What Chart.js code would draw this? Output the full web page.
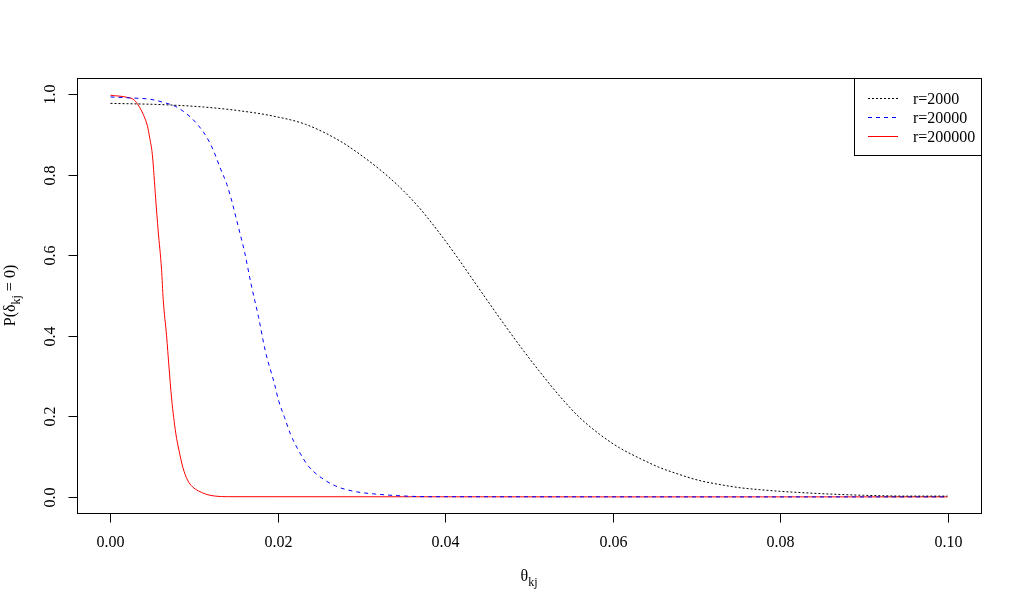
<!DOCTYPE html>
<html>
<head>
<meta charset="utf-8">
<script src="https://cdn.jsdelivr.net/npm/chart.js@4.4.1/dist/chart.umd.min.js"></script>
<style>
  html, body { margin: 0; padding: 0; background: #fff; }
  canvas { display: block; }
</style>
</head>
<body>
<canvas id="chart" width="1022" height="611"></canvas>
<script>
// r = 2000 (black dotted)
const THETA_2000 = [0, 0.006, 0.0111, 0.0153, 0.0193, 0.0233, 0.0273, 0.0297, 0.0321,
  0.0344, 0.0368, 0.0392, 0.0416, 0.0440, 0.0464, 0.0488, 0.0512, 0.0538, 0.0560,
  0.0584, 0.0608, 0.0632, 0.0656, 0.0679, 0.0703, 0.0727, 0.0751, 0.0775, 0.0799,
  0.0831, 0.0860, 0.0900, 0.0950, 0.1000]
const P_2000 = [0.977, 0.974, 0.968, 0.959, 0.946, 0.925, 0.885, 0.852, 0.814,
  0.772, 0.720, 0.658, 0.590, 0.518, 0.447, 0.378, 0.313, 0.247, 0.198,
  0.156, 0.122, 0.096, 0.073, 0.056, 0.041, 0.031, 0.023, 0.018, 0.014,
  0.010, 0.007, 0.004, 0.002, 0.002]

// r = 20000 (blue dashed)
const THETA_20000 = [0, 0.0019, 0.0048, 0.0064, 0.0078, 0.0091, 0.0103, 0.0115, 0.0123, 0.0131,
  0.0139, 0.0145, 0.0150, 0.0155, 0.0160, 0.0168, 0.0177, 0.0185, 0.0196, 0.0201,
  0.0208, 0.0215, 0.0225, 0.0237, 0.0249, 0.0269, 0.0293, 0.0317, 0.0348, 0.0380, 0.1000]
const P_20000 = [0.993, 0.991, 0.987, 0.979, 0.969, 0.951, 0.927, 0.893, 0.860, 0.817,
  0.776, 0.734, 0.693, 0.652, 0.610, 0.528, 0.445, 0.362, 0.280, 0.238,
  0.197, 0.156, 0.114, 0.075, 0.052, 0.027, 0.013, 0.007, 0.0025, 0.0005, 0]

// r = 200000 (red solid)
const THETA_200000 = [0, 0.0020, 0.0028, 0.0034, 0.0039, 0.0044, 0.0047, 0.0050, 0.0054, 0.0057,
  0.0061, 0.0063, 0.0067, 0.0070, 0.0073, 0.0078, 0.0082, 0.00865, 0.0092, 0.0098,
  0.0105, 0.0115, 0.0125, 0.0140, 0.1000]
const P_200000 = [0.997, 0.992, 0.986, 0.970, 0.950, 0.922, 0.890, 0.850, 0.740, 0.660,
  0.565, 0.490, 0.400, 0.320, 0.245, 0.158, 0.114, 0.073, 0.042, 0.025,
  0.015, 0.006, 0.002, 0.0005, 0]

const SERIES_LABELS = ['r=2000', 'r=20000', 'r=200000']
const X_TICKS = [0, 0.02, 0.04, 0.06, 0.08, 0.10]
const X_TICK_LABELS = ['0.00', '0.02', '0.04', '0.06', '0.08', '0.10']
const Y_TICKS = [0, 0.2, 0.4, 0.6, 0.8, 1.0]
const Y_TICK_LABELS = ['0.0', '0.2', '0.4', '0.6', '0.8', '1.0']

const FONT = '"Liberation Serif", "Times New Roman", serif'

const STYLES = [
  { color: '#000000', dash: [2, 2] },
  { color: '#0000ff', dash: [4, 4] },
  { color: '#ff0000', dash: [] },
]

const toPoints = (xs, ys) => xs.map((x, i) => ({ x, y: ys[i] }))

// draws box, ticks, labels, titles and legend the way base R does
const rDecor = {
  id: 'rDecor',
  afterDraw(chart) {
    const { ctx, chartArea: a, scales: { x, y } } = chart
    ctx.save()
    ctx.strokeStyle = '#000'
    ctx.fillStyle = '#000'
    ctx.lineWidth = 1
    ctx.setLineDash([])

    // plot box
    ctx.strokeRect(Math.round(a.left) + 0.5, Math.round(a.top) + 0.5,
      Math.round(a.right - a.left), Math.round(a.bottom - a.top))

    const bottom = Math.round(a.bottom) + 0.5
    const left = Math.round(a.left) + 0.5

    // x axis ticks
    ctx.font = `16px ${FONT}`
    ctx.textAlign = 'center'
    ctx.textBaseline = 'middle'
    X_TICKS.forEach((v, i) => {
      const px = Math.round(x.getPixelForValue(v)) + 0.5
      ctx.beginPath()
      ctx.moveTo(px, bottom)
      ctx.lineTo(px, bottom + 9)
      ctx.stroke()
      ctx.fillText(X_TICK_LABELS[i], px, 543)
    })

    // y axis ticks, labels rotated like R's las=0
    Y_TICKS.forEach((v, i) => {
      const py = Math.round(y.getPixelForValue(v)) + 0.5
      ctx.beginPath()
      ctx.moveTo(left, py)
      ctx.lineTo(left - 9, py)
      ctx.stroke()
      ctx.save()
      ctx.translate(51, py)
      ctx.rotate(-Math.PI / 2)
      ctx.fillText(Y_TICK_LABELS[i], 0, 0)
      ctx.restore()
    })

    // x title: theta_kj
    const cx = (a.left + a.right) / 2
    ctx.textAlign = 'left'
    ctx.textBaseline = 'alphabetic'
    ctx.font = `16px ${FONT}`
    const wt = ctx.measureText('θ').width
    ctx.font = `12px ${FONT}`
    const wk = ctx.measureText('kj').width
    const sx = cx - (wt + wk) / 2
    ctx.font = `16px ${FONT}`
    ctx.fillText('θ', sx, 581)
    ctx.font = `12px ${FONT}`
    ctx.fillText('kj', sx + wt, 586)

    // y title: P(delta_kj = 0)
    const cy = (a.top + a.bottom) / 2
    const parts = [
      { t: 'P(δ', size: 16, dy: 0 },
      { t: 'kj', size: 12, dy: 5 },
      { t: ' = 0)', size: 16, dy: 0 },
    ]
    let total = 0
    parts.forEach(p => { ctx.font = `${p.size}px ${FONT}`; p.w = ctx.measureText(p.t).width; total += p.w })
    ctx.save()
    ctx.translate(15, cy)
    ctx.rotate(-Math.PI / 2)
    let tx = -total / 2
    parts.forEach(p => {
      ctx.font = `${p.size}px ${FONT}`
      ctx.fillText(p.t, tx, p.dy)
      tx += p.w
    })
    ctx.restore()

    // legend
    const lx = 854.5, ly = Math.round(a.top) + 0.5
    ctx.strokeRect(lx, ly, Math.round(a.right) - lx + 0.5, 77)
    ctx.font = `16px ${FONT}`
    ctx.textBaseline = 'middle'
    SERIES_LABELS.forEach((label, i) => {
      const rowY = 98.5 + i * 19
      ctx.strokeStyle = STYLES[i].color
      ctx.setLineDash(STYLES[i].dash)
      ctx.beginPath()
      ctx.moveTo(868, rowY)
      ctx.lineTo(898, rowY)
      ctx.stroke()
      ctx.setLineDash([])
      ctx.fillText(label, 913, rowY + 1)
    })

    ctx.restore()
  }
}

const series = [
  toPoints(THETA_2000, P_2000),
  toPoints(THETA_20000, P_20000),
  toPoints(THETA_200000, P_200000),
]

new Chart(document.getElementById('chart'), {
  type: 'line',
  data: {
    datasets: series.map((data, i) => ({
      label: SERIES_LABELS[i],
      data,
      borderColor: STYLES[i].color,
      borderDash: STYLES[i].dash,
      borderWidth: 1,
      pointRadius: 0,
      fill: false,
      cubicInterpolationMode: 'monotone',
    }))
  },
  options: {
    responsive: false,
    animation: false,
    events: [],
    layout: { padding: { left: 77, top: 78, right: 41, bottom: 98 } },
    scales: {
      x: { type: 'linear', display: false, min: -0.004, max: 0.104 },
      y: { type: 'linear', display: false, min: -0.04, max: 1.04 }
    },
    plugins: {
      legend: { display: false },
      tooltip: { enabled: false }
    }
  },
  plugins: [rDecor]
})
</script>
</body>
</html>
